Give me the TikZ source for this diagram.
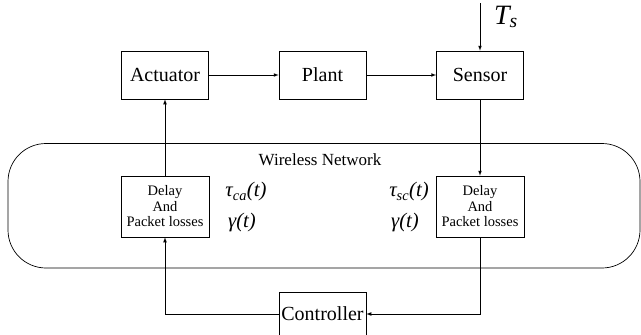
\documentclass[tikz,border=0pt]{standalone}
\usepackage{fontspec}
\setmainfont{Liberation Serif}
\usepackage{tikz}

\begin{document}
\begin{tikzpicture}[x=1pt,y=-1pt,>=latex,line width=0.7pt,
    blk/.style={draw,minimum width=87pt,minimum height=48pt,inner sep=0pt,
      font=\fontsize{20}{22}\selectfont},
    dly/.style={draw,minimum width=88pt,minimum height=61pt,inner sep=0pt,align=center,
      font=\fontsize{14.5}{15.5}\selectfont},
    sym/.style={font=\fontsize{20.74}{24}\selectfont\itshape}]
  \useasboundingbox (0,0) rectangle (641,335);
  % network area
  \draw[rounded corners=38pt] (8,143.5) rectangle (640,268);
  \node (net) at (320,160) {\fontsize{17}{19}\selectfont Wireless Network};
  % plant loop
  \node[blk] (act) at (165,75) {Actuator};
  \node[blk] (plant) at (322.5,75) {Plant};
  \node[blk] (sens) at (480,75) {Sensor};
  \node[dly] (dca) at (165,206.5) {Delay\\And\\Packet losses};
  \node[dly] (dsc) at (480,206.5) {Delay\\And\\Packet losses};
  \node[blk,minimum height=44pt] (ctrl) at (322.5,314) {Controller};
  \coordinate (ts) at (480,3);
  \node[sym,font=\fontsize{28}{30}\selectfont\itshape] (tslbl) at (506,17) {T\textsubscript{s}};
  \node[sym] (tca) at (246,192) {τ\textsubscript{ca}(t)};
  \node[sym] (gca) at (242,223) {γ(t)};
  \node[sym] (tsc) at (409,192) {τ\textsubscript{sc}(t)};
  \node[sym] (gsc) at (405,223) {γ(t)};
  % connectors
  \draw[->] (ts) -- (sens);
  \draw[->] (act) -- (plant);
  \draw[->] (plant) -- (sens);
  \draw[->] (sens) -- (dsc);
  \draw[->] (dsc.south) |- (ctrl.east);
  \draw[->] (ctrl.west) -| (dca.south);
  \draw[->] (dca) -- (act);
\end{tikzpicture}
\end{document}
